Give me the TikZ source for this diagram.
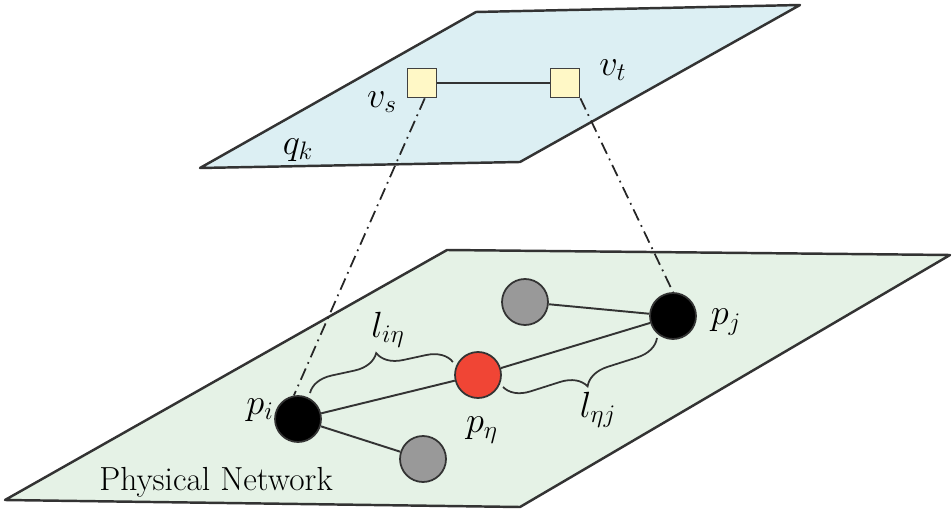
\documentclass[tikz,border=0pt]{standalone}
\usepackage{amsmath,amssymb}
\usepackage{xcolor}
\usepackage{tikz}
\usetikzlibrary{positioning,decorations.pathreplacing}
\definecolor{skyplane}{HTML}{DCEFF3}
\definecolor{grassplane}{HTML}{E5F2E6}
\definecolor{vnfill}{HTML}{FFF8C6}
\definecolor{pred}{HTML}{F04535}
\tikzset{
  plane/.style={draw=black!80, line width=1.4pt, line join=round},
  vn/.style={rectangle, fill=vnfill, draw=black!75, minimum size=0.58cm, inner sep=0pt, line width=1pt},
  pn/.style={circle, fill=black, draw=black!80, minimum size=0.92cm, inner sep=0pt, line width=1pt},
  pmid/.style={pn, fill=pred},
  pgray/.style={pn, fill=black!40},
  lk/.style={draw=black!80, line width=1.1pt},
  proj/.style={draw=black!85, line width=1pt, dash pattern=on 7pt off 3pt on 1pt off 3pt},
  brc/.style={draw=black!80, line width=1pt, decorate, decoration={brace, amplitude=0.5cm}},
  lbl/.style={font=\fontsize{21}{24}\selectfont, inner sep=1pt}
}

\begin{document}
\begin{tikzpicture}[x=0.02cm, y=-0.02cm]
        \useasboundingbox (0,0) rectangle (952,516);
        % the two planes
        \fill[skyplane] (476,12) -- (800,5) -- (520,162) -- (200,168) -- cycle;
        \draw[plane] (476,12) -- (800,5) -- (520,162) -- (200,168) -- cycle;
        \fill[grassplane] (447,250) -- (950,255) -- (520,507) -- (5,500) -- cycle;
        \draw[plane] (447,250) -- (950,255) -- (520,507) -- (5,500) -- cycle;
        % virtual request
        \node[vn] (vs) at (422,83) {};
        \node[vn] (vt) at (565,83) {};
        \draw[lk] (vs) -- (vt);
        \node[lbl] at (382,102) {$v_s$};
        \node[lbl] at (613,70) {$v_t$};
        \node[lbl] at (298,150) {$q_k$};
        % physical nodes
        \node[pn] (pi) at (298,419) {};
        \node[pn] (pj) at (673,316) {};
        \node[pmid] (peta) at (478,375) {};
        \node[pgray] (g1) at (525,302) {};
        \node[pgray] (g2) at (423,459) {};
        \draw[lk] (pi) -- (peta); \draw[lk] (peta) -- (pj);
        \draw[lk] (pi) -- (g2); \draw[lk] (g1) -- (pj);
        \node[lbl] at (260,410) {$p_i$};
        \node[lbl] at (726,322) {$p_j$};
        \node[lbl] at (482,430) {$p_\eta$};
        % mapping
        \draw[proj] (vs.280) -- (pi.100);
        \draw[proj] (vt.south east) -- (pj.north);
        % segment lengths
        \coordinate (b1) at (310,393);
        \coordinate (b2) at (453,362);
        \coordinate (b3) at (657,338);
        \coordinate (b4) at (503,387);
        \draw[brc] (b1) -- (b2);
        \draw[brc] (b3) -- (b4);
        \node[lbl] at (388,330) {$l_{i\eta}$};
        \node[lbl] at (598,410) {$l_{\eta j}$};
        \node[font=\fontsize{19}{22}\selectfont] at (216,482) {Physical Network};
      \end{tikzpicture}
\end{document}
